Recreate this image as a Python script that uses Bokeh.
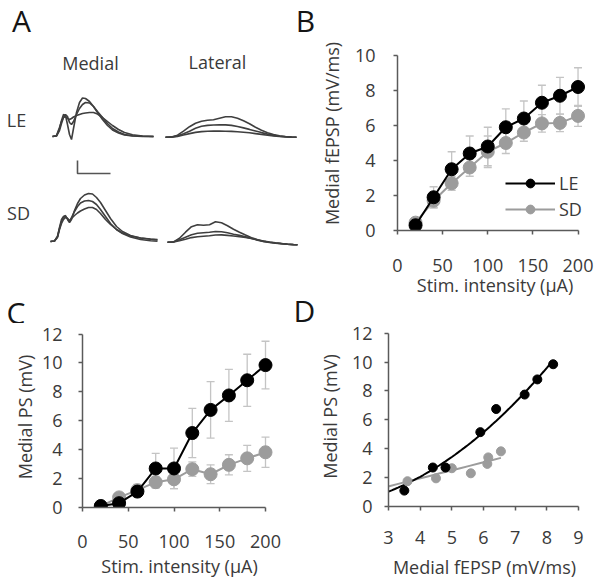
import numpy as np
from bokeh.plotting import figure
from bokeh.models import Range1d, Label, Whisker, ColumnDataSource, FixedTicker, Legend, LegendItem, TeeHead
from bokeh.layouts import row, column
from bokeh.embed import file_html
from bokeh.resources import INLINE

# ---------------- data ----------------
stim = [20, 40, 60, 80, 100, 120, 140, 160, 180, 200]          # stimulation intensity (uA)
fepsp_le = [0.3, 1.9, 3.5, 4.4, 4.8, 5.9, 6.4, 7.3, 7.7, 8.2]  # medial fEPSP slope (mV/ms)
fepsp_le_err = [0.2, 0.6, 1.0, 1.0, 1.1, 1.05, 1.0, 1.0, 1.05, 1.1]
fepsp_sd = [0.45, 1.7, 2.7, 3.6, 4.5, 5.0, 5.6, 6.12, 6.15, 6.55]
fepsp_sd_err = [0.2, 0.4, 0.4, 0.5, 0.9, 0.6, 0.5, 0.5, 0.5, 0.6]
ps_le = [0.1, 0.3, 1.1, 2.7, 2.7, 5.15, 6.75, 7.75, 8.8, 9.85]  # medial PS (mV)
ps_le_err = [0.05, 0.2, 0.3, 1.05, 1.4, 1.7, 1.95, 1.8, 1.8, 1.65]
ps_sd = [0.1, 0.7, 1.2, 1.75, 1.95, 2.65, 2.3, 2.95, 3.4, 3.82]
ps_sd_err = [0.05, 0.3, 0.4, 0.4, 0.65, 0.5, 0.65, 0.7, 0.9, 1.05]

b_xticks = [0, 50, 100, 150, 200]
b_yticks = [0, 2, 4, 6, 8, 10]
c_yticks = [0, 2, 4, 6, 8, 10, 12]
d_xticks = [3, 4, 5, 6, 7, 8, 9]
d_yticks = [0, 2, 4, 6, 8, 10, 12]

# example traces (sample times, amplitudes; arbitrary units)
med_le_t = [0, 4, 7, 9, 11, 13, 15, 17, 19, 21, 24, 27, 30, 33, 37, 41, 45, 50, 55, 60, 66, 72, 80, 90, 101]
med_le_1 = [0, 0.5, 8, 16, 22, 21, 12, 2, -3, 8, 24, 34, 38.5, 38, 35, 30, 24, 17, 11, 6.5, 3.5, 1.5, 0.5, 0, 0]
med_le_2 = [0, 0.5, 6, 13, 19, 22, 20, 14, 12, 15, 22, 28, 32, 34, 33.5, 30, 25, 19, 13, 8, 4.5, 2, 0.7, 0.2, 0]
med_le_3 = [0, 1, 9, 15, 19, 20, 18, 17, 18, 19.5, 21, 22, 23, 23.5, 24, 24, 22.5, 19, 15, 11, 7, 4, 1.8, 0.5, 0]
lat_le_t = [0, 6, 12, 18, 24, 30, 36, 42, 48, 54, 60, 66, 72, 78, 84, 90, 96, 102, 108, 114, 120, 126, 131]
lat_le_1 = [0, 0.3, 2, 6, 10.5, 14, 16, 17, 17.5, 19, 20.5, 20.5, 19, 16.5, 13.5, 10, 7, 4.5, 2.7, 1.5, 0.7, 0.2, 0]
lat_le_2 = [0, 0.2, 1.2, 3.5, 6, 9, 11, 11.8, 12.2, 12.4, 12.3, 11.8, 10.7, 9.3, 7.8, 6.2, 4.6, 3.1, 1.8, 1, 0.4, 0.1, 0]
lat_le_3 = [0, 0.1, 0.8, 2.2, 3.6, 4.8, 5.6, 6, 6.1, 6.1, 6, 5.8, 5.4, 5, 4.4, 3.6, 2.8, 2, 1.3, 0.7, 0.3, 0.1, 0]
med_sd_t = [0, 4, 7, 9, 11, 13, 15, 17, 19, 21, 24, 27, 30, 34, 38, 42, 46, 50, 55, 60, 66, 72, 80, 90, 100, 107]
med_sd_1 = [0, 0.5, 5, 14, 22, 25, 26, 22, 19, 22, 31, 38, 43, 46.5, 48, 47.5, 44, 39, 31, 23, 15, 10, 6, 3.5, 2.2, 1.5]
med_sd_2 = [0, 0.5, 5, 13, 20, 24, 25, 23, 20, 24, 30, 35, 38.5, 40.5, 41, 40, 37, 32, 25, 18, 12, 8, 4.5, 2, 0.8, 0.3]
med_sd_3 = [0, 0.5, 4, 12, 18, 22, 24, 23, 21, 23, 26, 28.5, 30.5, 32.5, 34, 34, 32, 28, 22, 17, 12, 8.5, 5.5, 3.5, 2.5, 2]
lat_sd_t = [0, 6, 12, 18, 24, 30, 36, 42, 48, 54, 60, 66, 72, 78, 84, 90, 96, 102, 108, 114, 120, 126, 130]
lat_sd_1 = [0, 0.3, 4, 10, 15.5, 17.5, 17, 17.5, 20.5, 19.5, 16.5, 13, 10, 7.2, 4.5, 2.5, 0.8, -0.3, -1, -1.6, -2.1, -2.5, -2.6]
lat_sd_2 = [0, 0.2, 2.5, 5, 7.5, 9, 9.5, 10, 10.7, 10.5, 9.5, 8, 6.8, 5.3, 3.8, 2, 0.8, 0, -0.8, -1.4, -2, -2.4, -2.6]
lat_sd_3 = [0, 0.2, 1.5, 3, 4.6, 5.5, 6, 6.5, 7.2, 7.3, 6.8, 6.2, 5.5, 4.8, 3.8, 2.5, 1.2, 0.2, -0.6, -1.3, -1.9, -2.3, -2.5]

# ---------------- style ----------------
FONT = "Open Sans"
TXT = "#3a3a3a"
AXC = "#5a5a5a"
LE_C = "#000000"
SD_C = "#9c9c9c"
ERR_C = "#c4c4c4"
TRACE_C = "#3f3f3f"


def lin(p, cal):
    p0, p1, v0, v1 = cal
    return v0 + (p - p0) * (v1 - v0) / (p1 - p0)


def panel(origin, size, frame, xcal, ycal, xlabel, ylabel):
    ox, oy = origin
    w, h = size
    L, R, T, B = frame
    p = figure(output_backend="svg", toolbar_location=None, title=None,
               width=w, height=h, frame_align=False,
               min_border_left=L - ox, min_border_right=ox + w - R,
               min_border_top=T - oy, min_border_bottom=oy + h - B,
               x_range=Range1d(lin(L, xcal), lin(R, xcal)),
               y_range=Range1d(lin(B, ycal), lin(T, ycal)))
    p.grid.visible = False
    p.outline_line_color = None
    p.background_fill_color = None
    p.border_fill_color = None
    p.xaxis.axis_label = xlabel
    p.yaxis.axis_label = ylabel
    for ax in (p.xaxis, p.yaxis):
        ax.axis_line_color = AXC
        ax.axis_line_width = 1.5
        ax.major_tick_line_color = AXC
        ax.major_tick_line_width = 1.5
        ax.major_tick_in = 0
        ax.major_tick_out = 4
        ax.minor_tick_line_color = None
        ax.major_label_text_font = FONT
        ax.major_label_text_font_size = "18px"
        ax.major_label_text_color = TXT
        ax.axis_label_text_font = FONT
        ax.axis_label_text_font_size = "18px"
        ax.axis_label_text_font_style = "normal"
        ax.axis_label_text_color = TXT
    return p


def errbars(p, x, y, e):
    src = ColumnDataSource(dict(x=x, upper=[a + b for a, b in zip(y, e)], lower=[a - b for a, b in zip(y, e)]))
    p.add_layout(Whisker(base="x", upper="upper", lower="lower", source=src, dimension="height",
                         line_color=ERR_C, line_width=1.3,
                         upper_head=TeeHead(size=8, line_color=ERR_C, line_width=1.3),
                         lower_head=TeeHead(size=8, line_color=ERR_C, line_width=1.3)))


# ---------------- panel A (traces + all panel letters) ----------------
AW, AH = 316, 323
pa = figure(output_backend="svg", toolbar_location=None, title=None, width=AW, height=AH,
            frame_align=False,
            min_border_left=0, min_border_right=0, min_border_top=0, min_border_bottom=0,
            x_range=Range1d(0, AW), y_range=Range1d(AH, 0),
            x_axis_type=None, y_axis_type=None)
pa.grid.visible = False
pa.outline_line_color = None
pa.background_fill_color = None
pa.border_fill_color = None
groups = [((52, 136), med_le_t, [med_le_1, med_le_2, med_le_3]),
          ((165, 136.7), lat_le_t, [lat_le_1, lat_le_2, lat_le_3]),
          ((50, 241), med_sd_t, [med_sd_1, med_sd_2, med_sd_3]),
          ((167, 241.7), lat_sd_t, [lat_sd_1, lat_sd_2, lat_sd_3])]
for (x0, y0), tt, traces in groups:
    for amp in traces:
        pa.line([x0 + t for t in tt], [y0 - a for a in amp], line_color=TRACE_C, line_width=1.6)
# scale bar
pa.line([77, 77, 110], [160, 173, 173], line_color="#555555", line_width=1.6)


def atext(s, x, y, size="18px", color=TXT):
    pa.add_layout(Label(x=x, y=y, text=s, text_font=FONT, text_font_size=size, text_color=color,
                        text_align="center", text_baseline="middle"))


atext("A", 21, 20, size="30px", color="#151515")
atext("B", 305, 19.5, size="30px", color="#151515")
atext("C", 15.5, 312, size="30px", color="#151515")
atext("D", 304, 309.5, size="30px", color="#151515")
atext("Medial", 90, 62)
atext("Lateral", 217, 61)
atext("LE", 16, 119.5)
atext("SD", 18, 212.5)

# ---------------- panel B ----------------
B_X = (390, 577, 0, 200)
B_Y = (230, 55, 0, 10)
pb = panel((AW, 0), (600 - AW, AH), (390, 592, 36, 230), B_X, B_Y,
           "Stim. intensity (µA)", "Medial fEPSP (mV/ms)")
pb.xaxis.bounds = (0, 200)
pb.yaxis.bounds = (0, 10)
pb.xaxis.ticker = FixedTicker(ticks=b_xticks)
pb.yaxis.ticker = FixedTicker(ticks=b_yticks)
pb.yaxis.major_label_standoff = 18
pb.xaxis.major_label_standoff = 24
pb.xaxis.axis_label_standoff = -2
pb.yaxis.axis_label_standoff = 8
errbars(pb, stim, fepsp_le, fepsp_le_err)
errbars(pb, stim, fepsp_sd, fepsp_sd_err)
l_sd = pb.line(stim, fepsp_sd, line_color=SD_C, line_width=2)
s_sd = pb.scatter(stim, fepsp_sd, size=13, fill_color=SD_C, line_color=SD_C)
l_le = pb.line(stim, fepsp_le, line_color=LE_C, line_width=2)
s_le = pb.scatter(stim, fepsp_le, size=13, fill_color=LE_C, line_color=LE_C)
leg = Legend(items=[LegendItem(label="LE", renderers=[l_le, s_le]),
                    LegendItem(label="SD", renderers=[l_sd, s_sd])],
             location=(108, 9), padding=0, margin=0, spacing=2, glyph_width=50, glyph_height=22,
             label_standoff=4, background_fill_alpha=0, border_line_alpha=0,
             label_text_font=FONT, label_text_font_size="18px", label_text_color=TXT)
pb.add_layout(leg)

# ---------------- panel C ----------------
C_X = (82, 265, 0, 200)
C_Y = (507, 333.5, 0, 12)
CW = 294
pc = panel((0, AH), (CW, 582 - AH), (82, 276, 326, 507), C_X, C_Y,
           "Stim. intensity (µA)", "Medial PS (mV)")
pc.xaxis.bounds = (0, 200)
pc.yaxis.bounds = (0, 12)
pc.xaxis.ticker = FixedTicker(ticks=b_xticks)
pc.yaxis.ticker = FixedTicker(ticks=c_yticks)
pc.yaxis.major_label_standoff = 16
pc.xaxis.major_label_standoff = 23
pc.xaxis.axis_label_standoff = 3
pc.yaxis.axis_label_standoff = 2
errbars(pc, stim, ps_le, ps_le_err)
errbars(pc, stim, ps_sd, ps_sd_err)
pc.line(stim, ps_sd, line_color=SD_C, line_width=2)
pc.scatter(stim, ps_sd, size=13, fill_color=SD_C, line_color=SD_C)
pc.line(stim, ps_le, line_color=LE_C, line_width=2)
pc.scatter(stim, ps_le, size=13, fill_color=LE_C, line_color=LE_C)

# ---------------- panel D ----------------
D_X = (388, 578, 3, 9)
D_Y = (506, 332.7, 0, 12)
pd_ = panel((CW, AH), (600 - CW, 582 - AH), (388, 580, 326, 506), D_X, D_Y,
            "Medial fEPSP (mV/ms)", "Medial PS (mV)")
pd_.xaxis.bounds = (3, 9)
pd_.yaxis.bounds = (0, 12)
pd_.xaxis.ticker = FixedTicker(ticks=d_xticks)
pd_.yaxis.ticker = FixedTicker(ticks=d_yticks)
pd_.yaxis.major_label_standoff = 12
pd_.xaxis.major_label_standoff = 20
pd_.xaxis.axis_label_standoff = 8
pd_.yaxis.axis_label_standoff = 7

# trendlines fitted over every intensity (as the spreadsheet trendline does)
c_le = np.polyfit(fepsp_le, ps_le, 2)
c_sd = np.polyfit(fepsp_sd, ps_sd, 1)
xf_le = np.linspace(min(fepsp_le), max(fepsp_le), 80)
xf_sd = np.linspace(min(fepsp_sd), max(fepsp_sd), 20)
pd_.line(xf_sd, np.polyval(c_sd, xf_sd), line_color=SD_C, line_width=2)
pd_.line(xf_le, np.polyval(c_le, xf_le), line_color=LE_C, line_width=2)
pd_.scatter(fepsp_sd, ps_sd, size=9, fill_color=SD_C, line_color=SD_C)
pd_.scatter(fepsp_le, ps_le, size=9, fill_color=LE_C, line_color=LE_C)

layout = column(row(pa, pb), row(pc, pd_))
open("out.html", "w").write(file_html(layout, INLINE))
